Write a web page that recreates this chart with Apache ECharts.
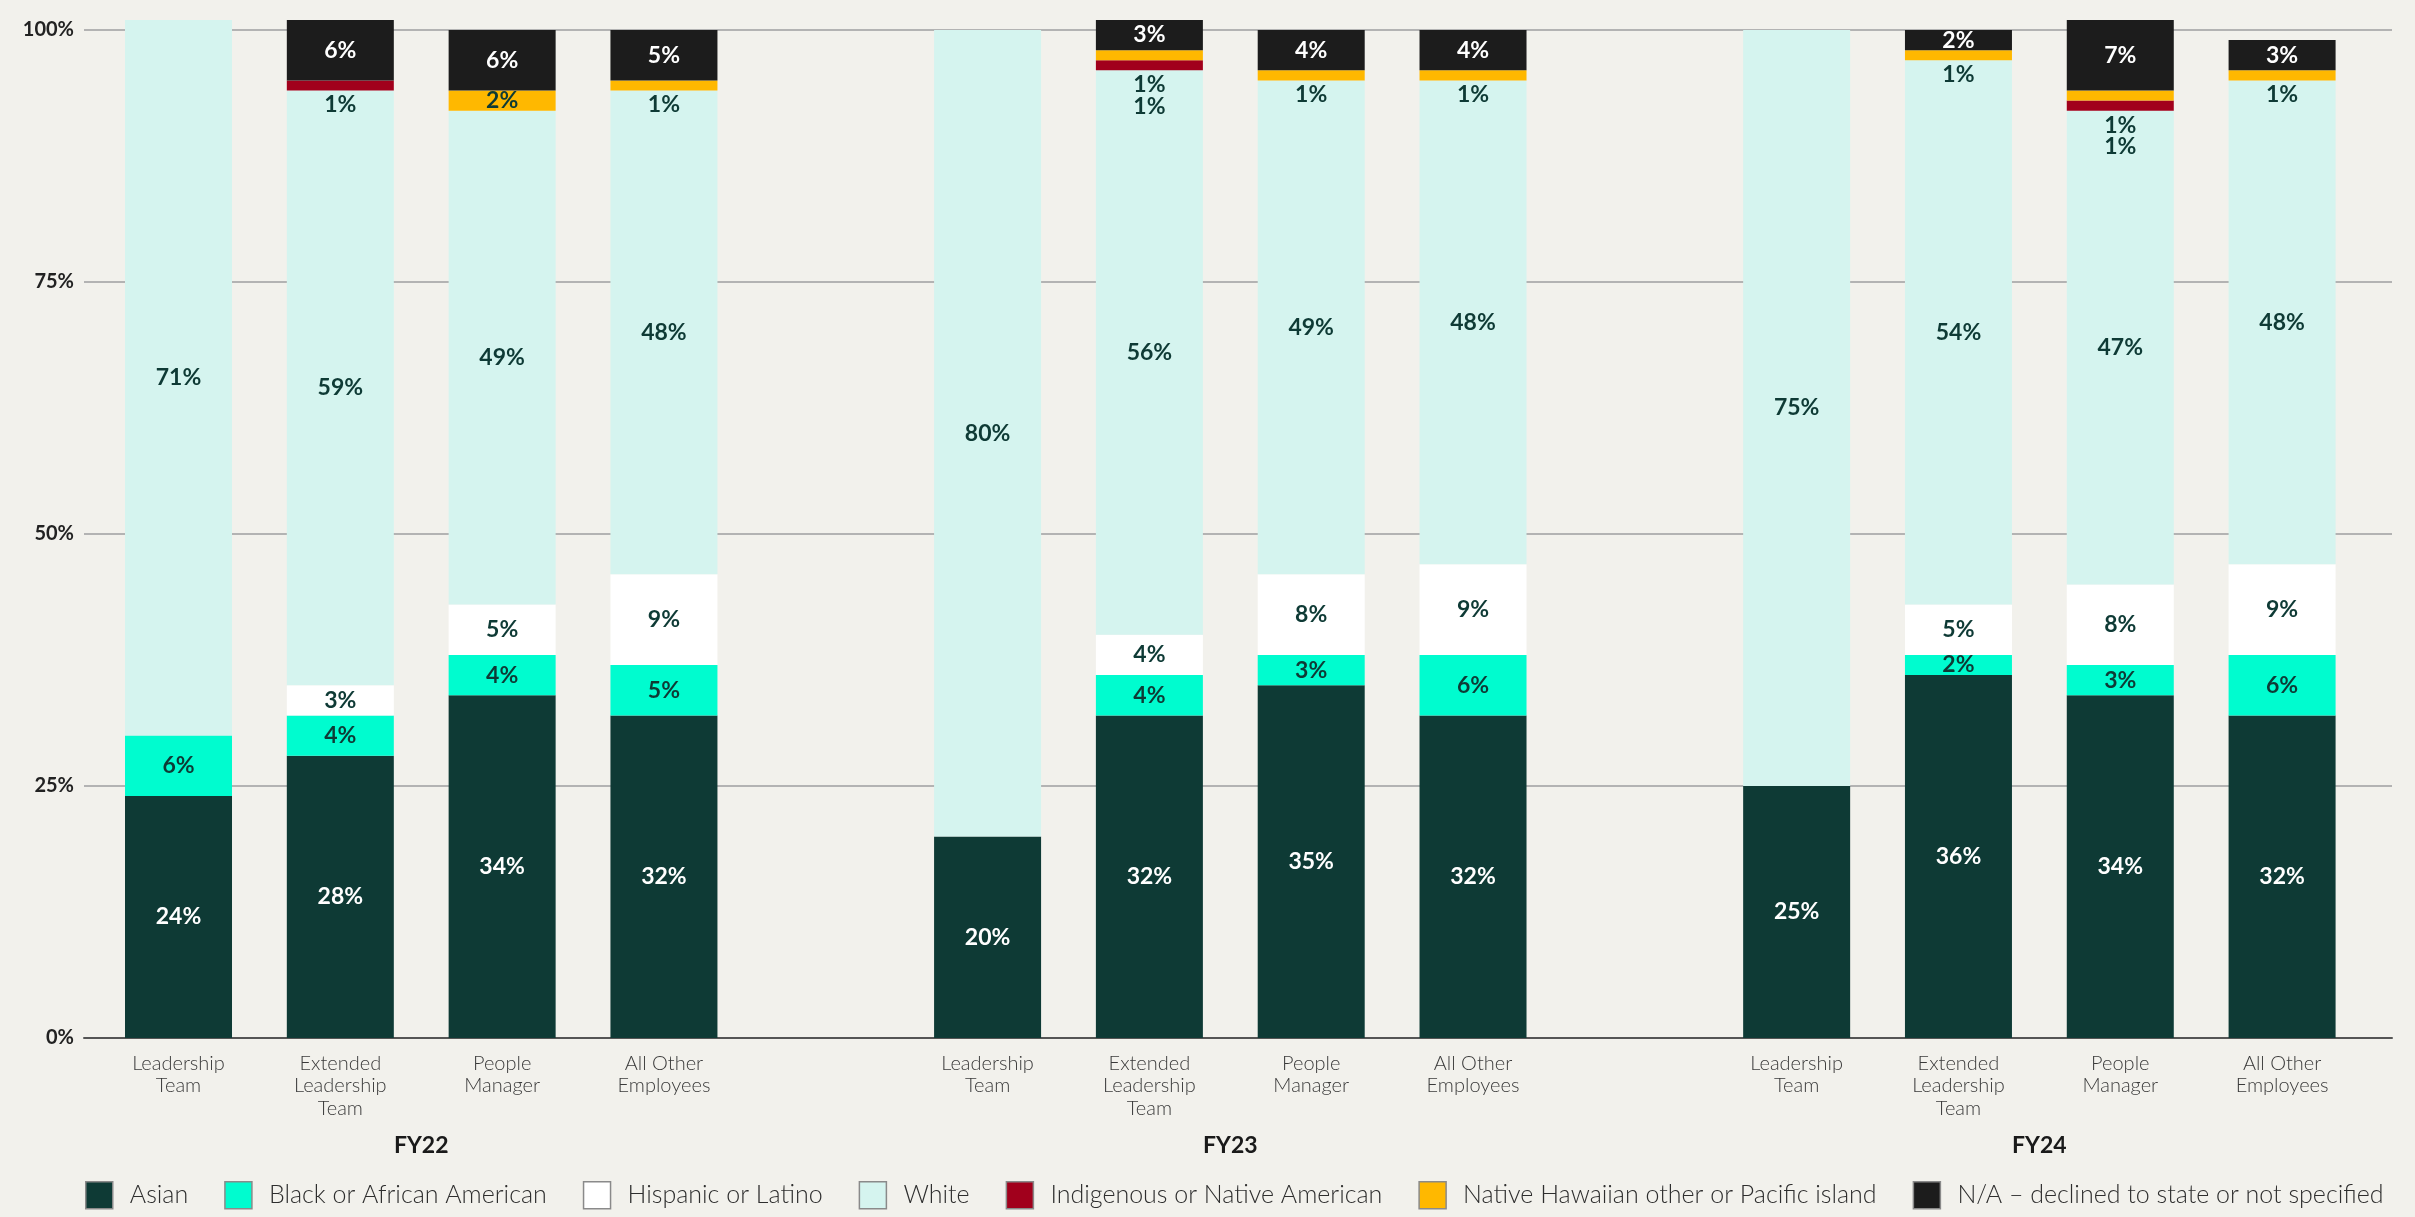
<!DOCTYPE html>
<html>
<head>
<meta charset="utf-8">
<script src="https://cdn.jsdelivr.net/npm/echarts@6/dist/echarts.min.js"></script>
<style>
  html, body { margin: 0; padding: 0; background: #f2f1ec; }
  #chart { width: 2415px; height: 1217px; }
</style>
</head>
<body>
<div id="chart"></div>
<script>
// Workforce composition by ethnicity, per role level and fiscal year (percent)
const years = ['FY22', 'FY23', 'FY24'];
const roles = ['Leadership\nTeam', 'Extended\nLeadership\nTeam', 'People\nManager', 'All Other\nEmployees'];
const yTicks = [0, 25, 50, 75, 100];

// values per bar, ordered FY22 (4 roles), FY23 (4 roles), FY24 (4 roles)
const asian      = [24, 28, 34, 32,  20, 32, 35, 32,  25, 36, 34, 32];
const black      = [ 6,  4,  4,  5,   0,  4,  3,  6,   0,  2,  3,  6];
const hispanic   = [ 0,  3,  5,  9,   0,  4,  8,  9,   0,  5,  8,  9];
const white      = [71, 59, 49, 48,  80, 56, 49, 48,  75, 54, 47, 48];
const indigenous = [ 0,  1,  0,  0,   0,  1,  0,  0,   0,  0,  1,  0];
const hawaiian   = [ 0,  0,  2,  1,   0,  1,  1,  1,   0,  1,  1,  1];
const notStated  = [ 0,  6,  6,  5,   0,  3,  4,  4,   0,  2,  7,  3];

const seriesNames = [
  'Asian',
  'Black or African American',
  'Hispanic or Latino',
  'White',
  'Indigenous or Native American',
  'Native Hawaiian other or Pacific island',
  'N/A – declined to state or not specified'
];
const seriesValues = [asian, black, hispanic, white, indigenous, hawaiian, notStated];
const seriesColors = ['#0e3a35', '#00fccf', '#ffffff', '#d5f4ef', '#a1001c', '#ffb800', '#1c1c1c'];
const labelColors  = ['#ffffff', '#0e3a35', '#0e3a35', '#0e3a35', '#0e3a35', '#0e3a35', '#ffffff'];

const FONT = 'Lato, "Noto Sans", sans-serif';
const perGroup = roles.length;

// category slots: each year's roles followed by an empty spacer slot
const slots = [];
years.forEach((y, g) => {
  roles.forEach(r => slots.push(r));
  if (g < years.length - 1) slots.push('');
});

// slot boundaries (boundaryGap:false axis) carrying the year names at group centres
const yearTicks = new Array(slots.length + 1).fill('');
years.forEach((y, g) => { yearTicks[g * (perGroup + 1) + perGroup / 2] = y; });

function spread(arr) {
  const out = [];
  years.forEach((y, g) => {
    for (let k = 0; k < perGroup; k++) out.push(arr[g * perGroup + k]);
    if (g < years.length - 1) out.push('-');
  });
  return out;
}

// thin 1% slices (indigenous / pacific) get their label just under the bar segment
function labelFor(s, i, v) {
  if (!v) return { show: false };
  const thin = (s === 4 || s === 5) && v <= 1;
  if (!thin) return { show: true, position: 'inside', color: labelColors[s] };
  const stackedBelow = s === 5 && indigenous[i] > 0;
  return { show: true, position: 'bottom', distance: stackedBelow ? 35 : 3, color: '#0e3a35' };
}

const series = seriesNames.map((name, s) => {
  const items = seriesValues[s].map((v, i) => ({ value: v, label: labelFor(s, i, v) }));
  return {
    name,
    type: 'bar',
    stack: 'total',
    xAxisIndex: 1,
    yAxisIndex: 1,
    barWidth: 107,
    clip: false,
    itemStyle: { color: seriesColors[s] },
    label: {
      fontFamily: FONT, fontSize: 23, fontWeight: 'bold',
      formatter: p => p.value + '%'
    },
    z: 3,
    data: spread(items)
  };
});

const option = {
  backgroundColor: '#f2f1ec',
  animation: false,
  textStyle: { fontFamily: FONT },
  grid: [
    { left: 84, right: 23, top: 30, bottom: 179 },
    { left: 97.6, right: 52, top: 30, bottom: 179 }
  ],
  legend: {
    left: 85,
    top: 1181,
    width: 2320,
    padding: 0,
    orient: 'horizontal',
    icon: 'rect',
    itemWidth: 27,
    itemHeight: 27,
    itemGap: 36,
    itemStyle: { borderColor: '#8a8a8a', borderWidth: 1.5 },
    textStyle: { fontFamily: FONT, fontSize: 25, fontWeight: 300, color: '#2e2e2e', padding: [0, 0, 0, 12] },
    selectedMode: false,
    data: seriesNames
  },
  xAxis: [
    {
      gridIndex: 0, type: 'value', min: 0, max: 1,
      axisLine: { show: true, lineStyle: { color: '#555', width: 2 } },
      axisTick: { show: false }, axisLabel: { show: false }, splitLine: { show: false }
    },
    {
      gridIndex: 1, type: 'category', data: slots, position: 'bottom',
      axisLine: { show: false }, axisTick: { show: false }, splitLine: { show: false },
      axisLabel: {
        interval: 0, margin: 14, fontFamily: FONT, fontSize: 20, lineHeight: 22.5,
        fontWeight: 300, color: '#3a3a3a'
      }
    },
    {
      gridIndex: 1, type: 'category', data: yearTicks, boundaryGap: false, position: 'bottom',
      axisLine: { show: false }, axisTick: { show: false }, splitLine: { show: false },
      axisLabel: {
        interval: 0, margin: 96, fontFamily: FONT, fontSize: 23, fontWeight: 'bold', color: '#1a1a1a'
      }
    }
  ],
  yAxis: [
    {
      gridIndex: 0, type: 'value', min: yTicks[0], max: yTicks[yTicks.length - 1], interval: 25,
      axisLine: { show: false }, axisTick: { show: false },
      axisLabel: { formatter: '{value}%', margin: 10, fontFamily: FONT, fontSize: 20, fontWeight: 'bold', color: '#222' },
      splitLine: { lineStyle: { color: '#b3b3b3', width: 2 } }
    },
    {
      gridIndex: 1, type: 'value', min: yTicks[0], max: yTicks[yTicks.length - 1], show: false
    }
  ],
  series
};

const chart = echarts.init(document.getElementById('chart'), null, { renderer: 'canvas' });
chart.setOption(option);
</script>
</body>
</html>
